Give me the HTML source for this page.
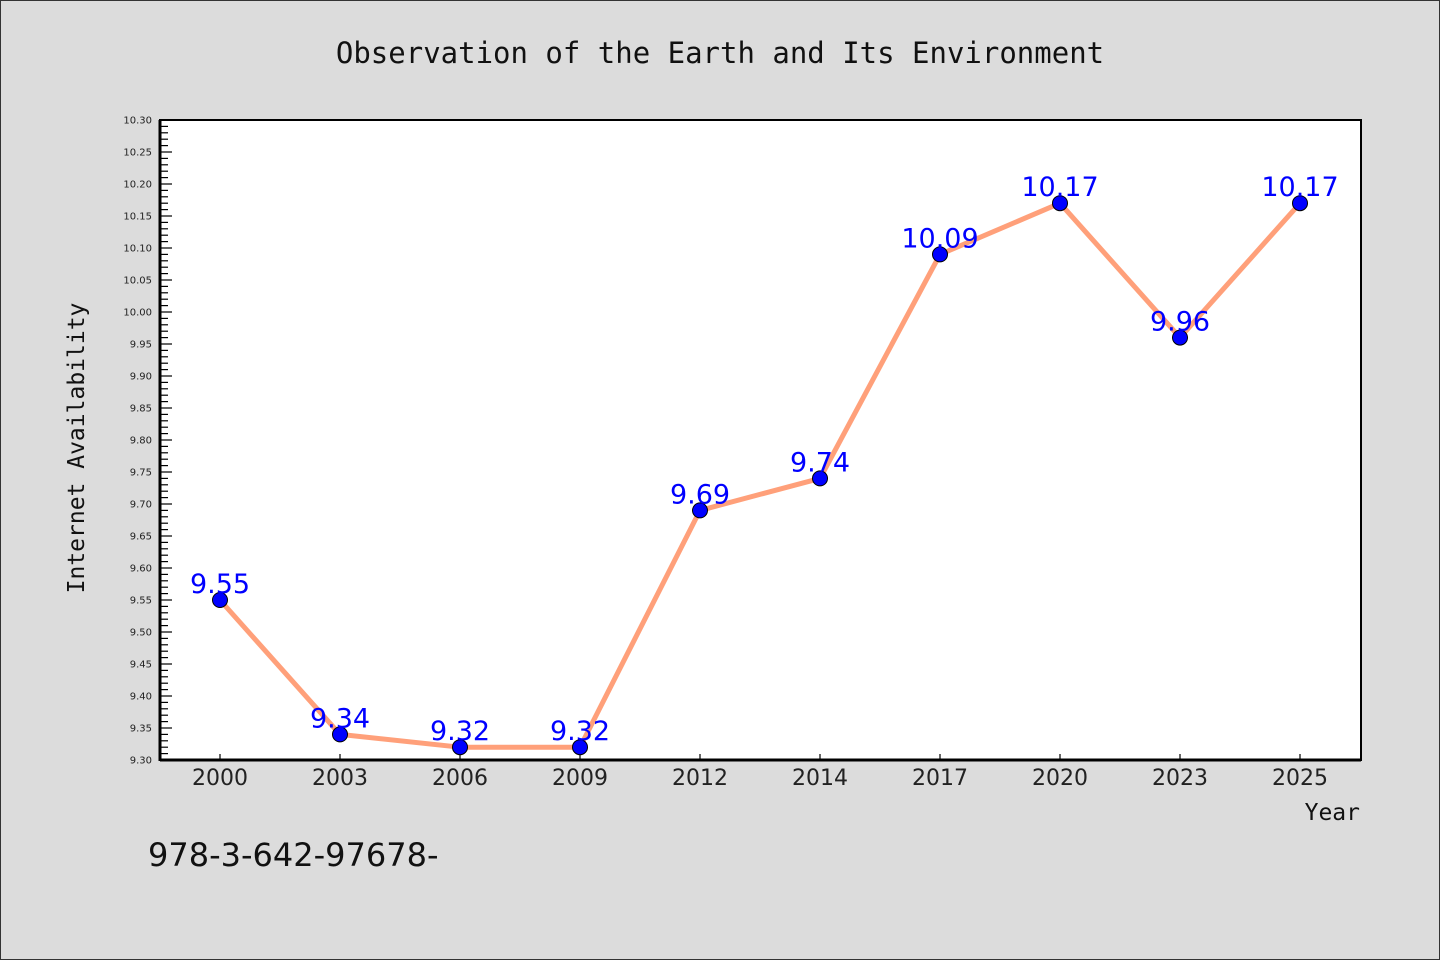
<!DOCTYPE html>
<html><head><meta charset="utf-8"><style>
body{margin:0;background:#dcdcdc;}
svg{display:block;font-family:"DejaVu Sans","Liberation Sans",sans-serif;}
</style></head><body>
<svg width="1440" height="960">
<rect x="0.5" y="0.5" width="1439" height="959" fill="#dcdcdc" stroke="#333"/>
<text x="720" y="63" text-anchor="middle" font-size="29" font-family="DejaVu Sans Mono, Liberation Mono, monospace" fill="#111">Observation of the Earth and Its Environment</text>
<rect x="160" y="120" width="1201" height="640" fill="#fff" stroke="#000" stroke-width="2"/>
<g id="axes"></g>
<g id="marks"></g>
<text transform="translate(84,448) rotate(-90)" text-anchor="middle" font-size="23" font-family="DejaVu Sans Mono, Liberation Mono, monospace" fill="#111">Internet Availability</text>
<text x="1360" y="820" text-anchor="end" font-size="23" font-family="DejaVu Sans Mono, Liberation Mono, monospace" fill="#111">Year</text>
<text x="148" y="866" font-size="32" fill="#111">978-3-642-97678-</text>
</svg>
<script>
const categories=["2000","2003","2006","2009","2012","2014","2017","2020","2023","2025"];
const values=[9.55,9.34,9.32,9.32,9.69,9.74,10.09,10.17,9.96,10.17];
const yTicks=["9.30","9.35","9.40","9.45","9.50","9.55","9.60","9.65","9.70","9.75","9.80","9.85","9.90","9.95","10.00","10.05","10.10","10.15","10.20","10.25","10.30"];
(function(){
const yMin=9.3,yMax=10.3,plotTop=120,plotBottom=760,plotLeft=160,plotRight=1361;
const ns="http://www.w3.org/2000/svg";
const yS=v=>plotBottom-(v-yMin)/(yMax-yMin)*(plotBottom-plotTop);
const xS=i=>220+i*((1300-220)/(categories.length-1));
function mk(t,a,p){const e=document.createElementNS(ns,t);for(const k in a)e.setAttribute(k,a[k]);p.appendChild(e);return e;}
const ax=document.getElementById('axes'),mg=document.getElementById('marks');
for(let k=0;k<=100;k++){const v=yMin+k*0.01;const major=k%5===0;
 const l=mk('line',{x1:plotLeft,x2:plotLeft+(major?12:8),y1:yS(v),y2:yS(v),stroke:'#000','stroke-width':1.2},ax);
 
 }
yTicks.forEach(t=>{const e=mk('text',{x:152,y:yS(parseFloat(t))+3.5,'text-anchor':'end','font-size':10,fill:'#222'},ax);e.textContent=t;
 
 });
mk('line',{x1:plotLeft,x2:plotLeft,y1:plotTop,y2:plotBottom+1,stroke:'#000','stroke-width':3},ax);
mk('line',{x1:plotLeft,x2:plotRight,y1:plotBottom,y2:plotBottom,stroke:'#000','stroke-width':3},ax);
categories.forEach((c,i)=>{const l=mk('line',{x1:xS(i),x2:xS(i),y1:plotBottom,y2:plotBottom-6,stroke:'#000','stroke-width':1.2},ax);
 
 
 const t=mk('text',{x:xS(i),y:plotBottom+25,'text-anchor':'middle','font-size':22,fill:'#222'},ax);t.textContent=c;
 
 });
const pl=mk('polyline',{points:values.map((v,i)=>xS(i)+','+yS(v)).join(' '),fill:'none',stroke:'#ffa07a','stroke-width':5,'stroke-linejoin':'round'},mg);


values.forEach((v,i)=>{const c=mk('circle',{cx:xS(i),cy:yS(v),r:7.5,fill:'#0000ff',stroke:'#000','stroke-width':1},mg);
 
 
 const t=mk('text',{x:xS(i),y:yS(v)-7,'text-anchor':'middle','font-size':27,fill:'#0000ff'},mg);t.textContent=v.toFixed(2);
 
 });
})();
</script>
</body></html>
